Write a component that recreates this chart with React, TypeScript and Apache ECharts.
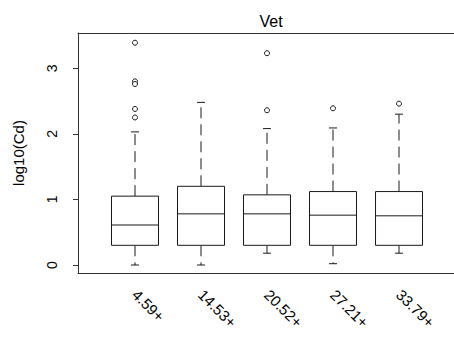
import React, { useEffect, useRef } from "react";
import * as echarts from "echarts";

const categories = ["4.59+", "14.53+", "20.52+", "27.21+", "33.79+"];
const whiskerLow = [0.0, 0.0, 0.18, 0.02, 0.18];
const q1 = [0.3, 0.3, 0.3, 0.3, 0.3];
const medians = [0.61, 0.78, 0.78, 0.76, 0.75];
const q3 = [1.05, 1.2, 1.07, 1.12, 1.12];
const whiskerHigh = [2.03, 2.48, 2.08, 2.09, 2.3];
const outlierGroup = [1, 1, 1, 1, 1, 3, 3, 4, 5];
const outlierValue = [3.39, 2.8, 2.76, 2.38, 2.25, 3.23, 2.36, 2.39, 2.46];
const yTicks = [0, 1, 2, 3];
const title = "Vet";
const yName = "log10(Cd)";

export default function App() {
  const ref = useRef<HTMLDivElement>(null);
  useEffect(() => {
    if (!ref.current) return;
    const chart = echarts.init(ref.current, undefined, { renderer: "svg" });
    const boxData = categories.map((_, i) => [
      i + 1,
      whiskerLow[i],
      q1[i],
      medians[i],
      q3[i],
      whiskerHigh[i],
    ]);
    const outliers = outlierGroup.map((g, i) => [g, outlierValue[i]]);
    const font = "'Liberation Sans', Arial, sans-serif";
    const lineColor = "#1a1a1a";
    const frame = { show: true, onZero: false, lineStyle: { color: "#333", width: 1 } };
    chart.setOption({
      animation: false,
      title: {
        text: title,
        left: 266,
        top: 8,
        textAlign: "center",
        textStyle: { fontFamily: font, fontSize: 16, fontWeight: "normal", color: "#000" },
      },
      grid: {
        left: 78,
        width: 382,
        top: 33,
        height: 240,
        show: false,
        containLabel: false,
        outerBoundsMode: "none",
      },
      xAxis: [
        {
          type: "value",
          min: 0.1364,
          max: 5.924,
          position: "bottom",
          splitLine: { show: false },
          axisLine: frame,
          axisTick: { show: false },
          axisLabel: {
            customValues: [1, 2, 3, 4, 5],
            rotate: -45,
            margin: 19,
            fontFamily: font,
            fontSize: 15,
            color: "#000",
            formatter: (v: number) => categories[Math.round(v) - 1] ?? "",
          },
        },
        {
          type: "value",
          min: 0.1364,
          max: 5.924,
          position: "top",
          splitLine: { show: false },
          axisLine: frame,
          axisTick: { show: false },
          axisLabel: { show: false },
        },
      ],
      yAxis: {
        type: "value",
        min: -0.122,
        max: 3.538,
        name: yName,
        nameLocation: "middle",
        nameGap: 52,
        nameRotate: 90,
        nameTextStyle: { fontFamily: font, fontSize: 15, color: "#000" },
        splitLine: { show: false },
        axisLine: frame,
        axisTick: {
          show: true,
          customValues: yTicks,
          length: 5,
          lineStyle: { color: "#333" },
        },
        axisLabel: {
          customValues: yTicks,
          rotate: 90,
          margin: 19,
          fontFamily: font,
          fontSize: 14,
          color: "#000",
        },
      },
      series: [
        {
          type: "custom",
          data: boxData,
          xAxisIndex: 0,
          encode: { x: 0, y: [1, 2, 3, 4, 5] },
          renderItem: (params: any, api: any) => {
            const x = api.value(0);
            const lo = api.coord([x, api.value(1)]);
            const b1 = api.coord([x, api.value(2)]);
            const md = api.coord([x, api.value(3)]);
            const b3 = api.coord([x, api.value(4)]);
            const hi = api.coord([x, api.value(5)]);
            const half = api.size([0.356, 0])[0];
            const cap = api.size([0.06, 0])[0];
            const cx = lo[0];
            const solid = { stroke: lineColor, lineWidth: 1, fill: null };
            const dashed = { stroke: lineColor, lineWidth: 1, lineDash: [11, 6], fill: null };
            return {
              type: "group",
              children: [
                { type: "line", shape: { x1: cx, y1: b3[1], x2: cx, y2: hi[1] }, style: dashed },
                { type: "line", shape: { x1: cx, y1: b1[1], x2: cx, y2: lo[1] }, style: dashed },
                { type: "line", shape: { x1: cx - cap, y1: hi[1], x2: cx + cap, y2: hi[1] }, style: solid },
                { type: "line", shape: { x1: cx - cap, y1: lo[1], x2: cx + cap, y2: lo[1] }, style: solid },
                {
                  type: "rect",
                  shape: { x: cx - half, y: b3[1], width: half * 2, height: b1[1] - b3[1] },
                  style: { stroke: lineColor, lineWidth: 1, fill: "#fff" },
                },
                { type: "line", shape: { x1: cx - half, y1: md[1], x2: cx + half, y2: md[1] }, style: solid },
              ],
            };
          },
        },
        {
          type: "scatter",
          xAxisIndex: 0,
          data: outliers,
          symbol: "circle",
          symbolSize: 5,
          itemStyle: { color: "#fff", borderColor: "#000", borderWidth: 0.9, opacity: 1 },
        },
      ],
    });
    return () => chart.dispose();
  }, []);
  return (
    <div
      ref={ref}
      style={{ position: "fixed", left: 0, top: 0, width: 454, height: 341, background: "#fff" }}
    />
  );
}
